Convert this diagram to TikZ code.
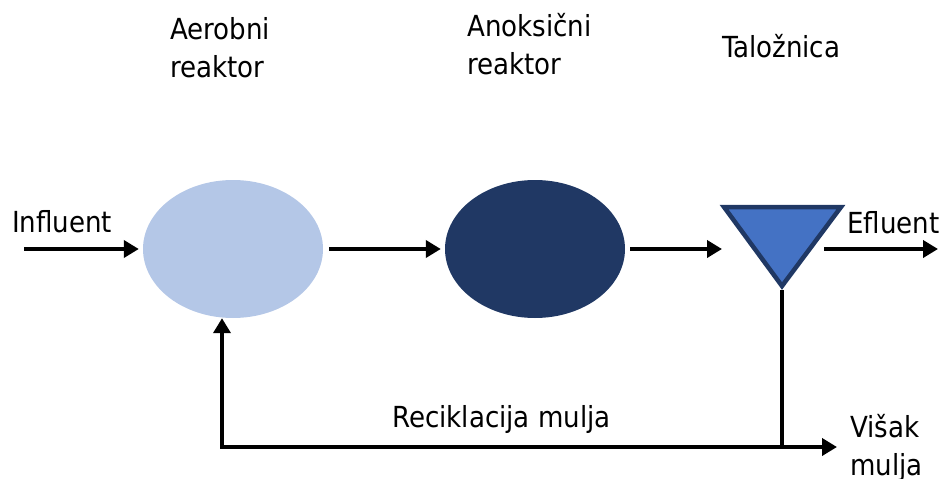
\documentclass[tikz,border=0pt]{standalone}
\usepackage{fontspec}
\setmainfont{DejaVu Sans Condensed}
\usetikzlibrary{shapes.geometric,arrows.meta}
\definecolor{aerofill}{HTML}{B4C7E7}
\definecolor{anoxfill}{HTML}{203864}
\definecolor{settfill}{HTML}{4472C4}
\definecolor{settline}{HTML}{203864}
\tikzset{
  flow/.style={line width=4pt,-{Triangle[length=15pt,width=17pt]}},
  pipe/.style={line width=3.5pt},
  reaktor/.style={ellipse,minimum width=180pt,minimum height=138pt,inner sep=0pt},
  lbl/.style={font=\fontsize{29}{38}\selectfont,inner sep=0pt,align=left},
}
\begin{document}
\begin{tikzpicture}[x=1pt,y=-1pt]
  \useasboundingbox (0,0) rectangle (940,479);
  % reaktori
  \node[reaktor,fill=aerofill] (aer) at (233,249) {};
  \node[reaktor,fill=anoxfill] (ano) at (535,249) {};
  % taloznica
  \draw[line width=4.5pt,draw=settline,fill=settfill] (724,207) -- (841,207) -- (782,286) -- cycle;
  \coordinate (tin) at (722,249);
  \coordinate (tout) at (824,249);
  \coordinate (apex) at (782,290);
  \coordinate (inl) at (24,249);
  \coordinate (efl) at (938,249);
  \coordinate (jun) at (782,447);
  \coordinate (rec) at (222,447);
  \coordinate (vis) at (837,447);
  % tokovi
  \draw[flow,shorten >=4pt] (inl) -- (aer);
  \draw[flow,shorten <=6pt,shorten >=4pt] (aer) -- (ano);
  \draw[flow,shorten <=5pt] (ano) -- (tin);
  \draw[flow] (tout) -- (efl);
  \draw[pipe] (apex) -- (jun);
  \draw[flow] (jun) -- (rec) -- (rec |- aer.south);
  \draw[flow] (rec) -- (vis);
  % oznake
  \node[lbl,anchor=base west] (inftxt) at (12,232) {Influent};
  \node[lbl,anchor=base west] (efltxt) at (847,233) {Efluent};
  \node[lbl,anchor=base west] (aertxt) at (170,77) {Aerobni\\reaktor};
  \node[lbl,anchor=base west] (anotxt) at (467,74) {Anoksični\\reaktor};
  \node[lbl,anchor=base west] (taltxt) at (722,57) {Taložnica};
  \node[lbl,anchor=base west] (rectxt) at (392,427) {Reciklacija mulja};
  \node[lbl,anchor=base west] (vistxt) at (850,475) {Višak\\mulja};
\end{tikzpicture}
\end{document}
